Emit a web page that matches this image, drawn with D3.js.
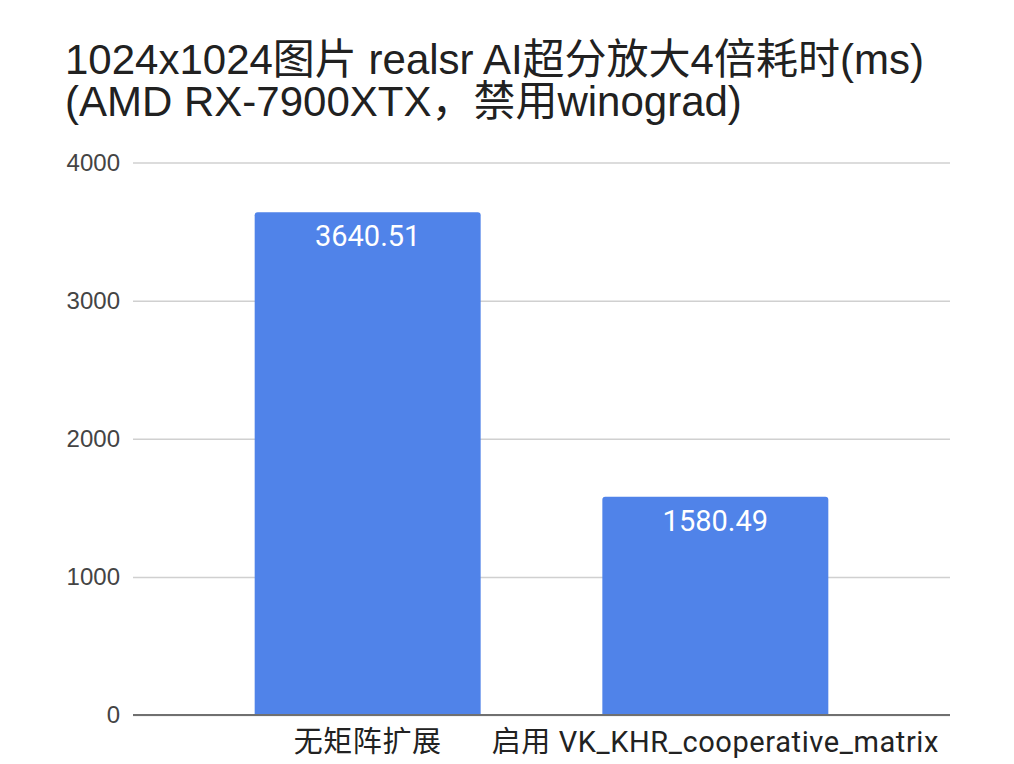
<!DOCTYPE html>
<html>
<head>
<meta charset="utf-8">
<script src="https://cdn.jsdelivr.net/npm/d3@7"></script>
<style>
  html, body { margin: 0; padding: 0; background: #fff; }
</style>
</head>
<body>
<svg id="chart"></svg>
<script>
const width = 1014, height = 764;

// chart data
const categories = ["无矩阵扩展", "启用 VK_KHR_cooperative_matrix"];
const timesMs = [3640.51, 1580.49];
const yTicks = [0, 1000, 2000, 3000, 4000];
const titleLines = ["1024x1024图片 realsr AI超分放大4倍耗时(ms)", "(AMD RX-7900XTX，禁用winograd)"];

const plot = { left: 133, right: 950, top: 162.5, bottom: 715 };
const barColor = "#5083e9";

const svg = d3.select("#chart")
    .attr("width", width)
    .attr("height", height)
    .style("background", "#fff");

// Title
svg.append("g").selectAll("text")
    .data(titleLines)
    .enter().append("text")
    .attr("x", 65)
    .attr("y", (d, i) => 74 + i * 42)
    .style("font-family", "'Liberation Sans', Arial, 'Noto Sans CJK SC', sans-serif")
    .style("font-size", "42px")
    .attr("fill", "#212121")
    .text(d => d);

// Scales
const yScale = d3.scaleLinear()
    .domain([0, 4000])
    .range([plot.bottom, plot.top]);

const xScale = d3.scaleBand()
    .domain(categories)
    .range([plot.left, plot.right])
    .paddingInner(0.35)
    .paddingOuter(0.35);

// Gridlines + y labels
const yAxis = svg.append("g")
    .attr("transform", `translate(${plot.left}, 0)`)
    .call(d3.axisLeft(yScale)
        .tickValues(yTicks)
        .tickSize(-(plot.right - plot.left))
        .tickPadding(13)
        .tickFormat(d3.format("d")));

yAxis.select(".domain").remove();
yAxis.selectAll(".tick line")
    .attr("stroke", "#d0d0d0")
    .attr("stroke-width", 1.5);
yAxis.selectAll(".tick text")
    .style("font-family", "'Liberation Sans', Arial, sans-serif")
    .style("font-size", "24px")
    .attr("fill", "#444");

// Bars with slightly rounded top corners
const r = 3;
svg.append("g").selectAll("path")
    .data(timesMs)
    .enter().append("path")
    .attr("fill", barColor)
    .attr("d", (d, i) => {
        const x0 = xScale(categories[i]), x1 = x0 + xScale.bandwidth();
        const y0 = yScale(d), yb = yScale(0);
        return `M${x0},${yb} V${y0 + r} Q${x0},${y0} ${x0 + r},${y0} H${x1 - r} Q${x1},${y0} ${x1},${y0 + r} V${yb} Z`;
    });

// Baseline
svg.append("line")
    .attr("x1", plot.left)
    .attr("x2", plot.right)
    .attr("y1", yScale(0))
    .attr("y2", yScale(0))
    .attr("stroke", "#707070")
    .attr("stroke-width", 2);

// Value labels inside bars
svg.append("g").selectAll("text")
    .data(timesMs)
    .enter().append("text")
    .attr("x", (d, i) => xScale(categories[i]) + xScale.bandwidth() / 2)
    .attr("y", d => yScale(d) + 34)
    .attr("text-anchor", "middle")
    .style("font-family", "Roboto, sans-serif")
    .style("font-size", "29px")
    .attr("fill", "#fff")
    .text(d => d.toFixed(2));

// Category labels
svg.append("g").selectAll("text")
    .data(categories)
    .enter().append("text")
    .attr("x", d => xScale(d) + xScale.bandwidth() / 2)
    .attr("y", 752)
    .attr("text-anchor", "middle")
    .style("font-family", "Roboto, 'Noto Sans CJK SC', sans-serif")
    .style("font-size", "29px")
    .style("letter-spacing", "0.6px")
    .attr("fill", "#222")
    .text(d => d);
</script>
</body>
</html>
